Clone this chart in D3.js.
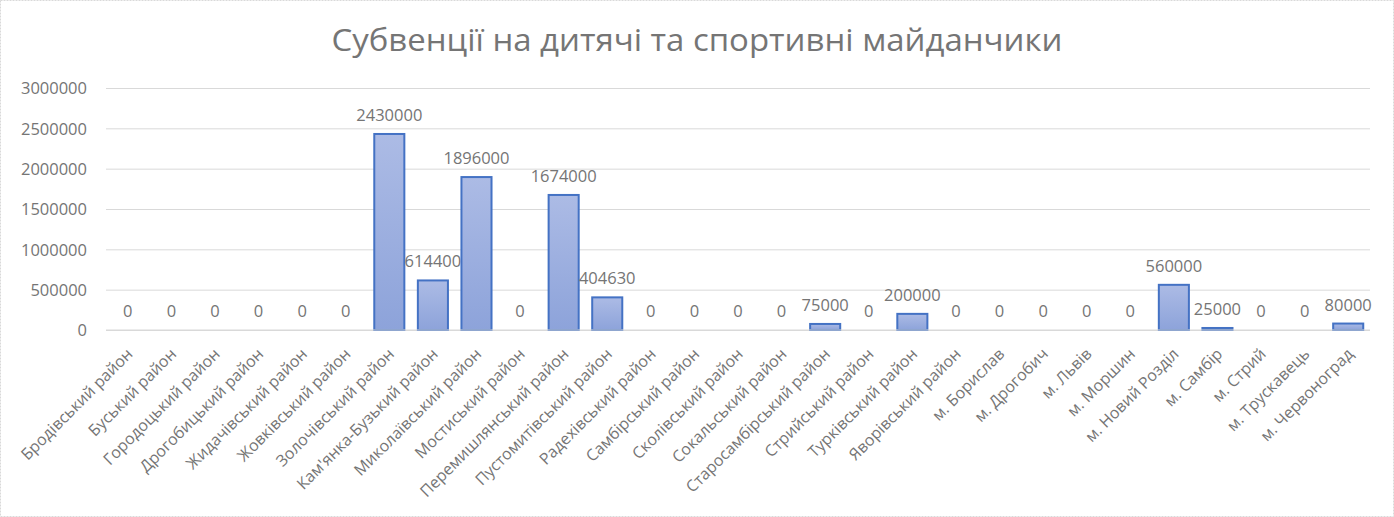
<!DOCTYPE html>
<html>
<head>
<meta charset="utf-8">
<script src="https://cdn.jsdelivr.net/npm/d3@7"></script>
<style>
body { margin: 0; background: #fff; }
text { font-family: "Open Sans", sans-serif; }
</style>
</head>
<body>
<svg id="chart" width="1394" height="517"></svg>
<script>
// data
const categories = [
  "Бродівський район", "Буський район", "Городоцький район", "Дрогобицький район",
  "Жидачівський район", "Жовківський район", "Золочівський район", "Кам'янка-Бузький район",
  "Миколаївський район", "Мостиський район", "Перемишлянський район", "Пустомитівський район",
  "Радехівський район", "Самбірський район", "Сколівський район", "Сокальський район",
  "Старосамбірський район", "Стрийський район", "Турківський район", "Яворівський район",
  "м. Борислав", "м. Дрогобич", "м. Львів", "м. Моршин", "м. Новий Розділ",
  "м. Самбір", "м. Стрий", "м. Трускавець", "м. Червоноград"
];
const values = [
  0, 0, 0, 0, 0, 0, 2430000, 614400, 1896000, 0, 1674000, 404630,
  0, 0, 0, 0, 75000, 0, 200000, 0,
  0, 0, 0, 0, 560000, 25000, 0, 0, 80000
];
const yTicks = [0, 500000, 1000000, 1500000, 2000000, 2500000, 3000000];
const title = "Субвенції на дитячі та спортивні майданчики";

const W = 1394, H = 517;
const margin = {top: 88, right: 24, bottom: 187, left: 106};

let svg = d3.select("#chart");

svg.append("rect")
   .attr("x", 0.5).attr("y", 0.5)
   .attr("width", W - 1).attr("height", H - 1)
   .attr("fill", "#fff")
   .attr("stroke", "#d9d9d9")
   .attr("stroke-dasharray", "2,1");

let defs = svg.append("defs");
let grad = defs.append("linearGradient")
   .attr("id", "barFill")
   .attr("x1", 0).attr("y1", 0).attr("x2", 0).attr("y2", 1);
grad.append("stop").attr("offset", "0%").attr("stop-color", "#acbbe5");
grad.append("stop").attr("offset", "100%").attr("stop-color", "#8da3da");

let x = d3.scaleBand()
   .domain(categories)
   .range([margin.left, W - margin.right])
   .paddingInner(0.31)
   .paddingOuter(0.155);

let y = d3.scaleLinear()
   .domain([0, 3000000])
   .range([H - margin.bottom, margin.top]);

// gridlines
let grid = svg.append("g")
   .attr("transform", "translate(" + margin.left + ",0)")
   .call(d3.axisLeft(y).tickValues(yTicks).tickSize(-(W - margin.left - margin.right)).tickFormat(""));
grid.select(".domain").remove();
grid.selectAll("line").attr("stroke", "#d9d9d9");

// y tick labels
let yAxis = svg.append("g")
   .attr("transform", "translate(" + (margin.left - 16) + ",0)")
   .call(d3.axisLeft(y).tickValues(yTicks).tickSize(0).tickFormat(d3.format("d")));
yAxis.select(".domain").remove();
yAxis.selectAll("text")
   .attr("fill", "#757575")
   .style("font-size", "16.5px")
   .attr("dy", "0.35em");

// bars
let data = categories.map(function (c, i) { return {name: c, value: values[i]}; });

svg.append("g").selectAll("rect")
   .data(data.filter(function (d) { return d.value > 0; }))
   .join("rect")
   .attr("x", function (d) { return x(d.name); })
   .attr("y", function (d) { return y(d.value); })
   .attr("width", x.bandwidth())
   .attr("height", function (d) { return y(0) - y(d.value); })
   .attr("fill", "url(#barFill)")
   .attr("stroke", "#4472c4")
   .attr("stroke-width", 2);

// value labels
svg.append("g").selectAll("text")
   .data(data)
   .join("text")
   .attr("x", function (d) { return x(d.name) + x.bandwidth() / 2; })
   .attr("y", function (d) { return y(d.value) - 13; })
   .attr("text-anchor", "middle")
   .attr("fill", "#757575")
   .style("font-size", "16.5px")
   .text(function (d) { return d.value; });

// category axis line
svg.append("line")
   .attr("x1", margin.left).attr("x2", W - margin.right)
   .attr("y1", y(0)).attr("y2", y(0))
   .attr("stroke", "#d9d9d9");

// category labels
svg.append("g").selectAll("text")
   .data(categories)
   .join("text")
   .attr("transform", function (d) {
     return "translate(" + (x(d) + x.bandwidth() / 2 + 2) + "," + (y(0) + 21) + ") rotate(-45)";
   })
   .attr("dy", "0.35em")
   .attr("text-anchor", "end")
   .attr("fill", "#757575")
   .style("font-size", "16px")
   .text(function (d) { return d; });

// title
svg.append("text")
   .attr("x", W / 2)
   .attr("y", 51)
   .attr("text-anchor", "middle")
   .attr("fill", "#757575")
   .style("font-size", "31px")
   .attr("textLength", 731)
   .attr("lengthAdjust", "spacingAndGlyphs")
   .text(title);
</script>
</body>
</html>
